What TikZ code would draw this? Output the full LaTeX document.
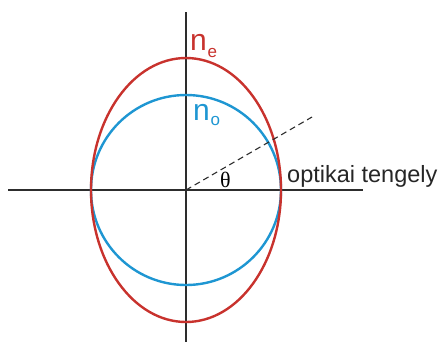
\documentclass[tikz,border=0pt]{standalone}
\usepackage{fontspec}
\setmainfont{Liberation Sans}
\newfontfamily\thetafont{Liberation Serif}
\definecolor{ered}{RGB}{200,50,45}
\definecolor{oblue}{RGB}{30,150,210}
\definecolor{axisgray}{RGB}{45,45,45}
\begin{document}
\begin{tikzpicture}[x=1pt,y=-1pt,
  axisline/.style={draw=axisgray,line width=1.3pt},
  curve/.style={line width=2.4pt},
  lbl/.style={inner sep=0pt,anchor=base west},
  big/.style={font=\fontsize{30}{30}\selectfont},
  sub/.style={font=\fontsize{17}{17}\selectfont}]
\useasboundingbox (0,0) rectangle (443,362);
\coordinate (O) at (186,190);
\coordinate (xl) at (8,190);
\coordinate (xr) at (363,190);
\coordinate (yt) at (186,12);
\coordinate (yb) at (186,342);
\coordinate (d) at (312,117);
\draw[axisline] (xl) -- (xr);
\draw[axisline] (yt) -- (yb);
\draw[curve,oblue] (O) circle[radius=95];
\draw[curve,ered] (O) ellipse[x radius=95,y radius=132];
\draw[axisgray,line width=1.1pt,dash pattern=on 6pt off 4pt] (O) -- (d);
\node[lbl,big,text=ered] (ne) at (190,50) {n};
\node[lbl,sub,text=ered] (nesub) at (207.5,57) {e};
\node[lbl,big,text=oblue] (no) at (193,120) {n};
\node[lbl,sub,text=oblue] (nosub) at (210.5,125) {o};
\node[lbl,font=\fontsize{22}{22}\thetafont] (theta) at (220,187) {θ};
\node[lbl,font=\fontsize{23.5}{23.5}\selectfont,text=black!85] (ax) at (287,182) {optikai tengely};
\end{tikzpicture}
\end{document}
